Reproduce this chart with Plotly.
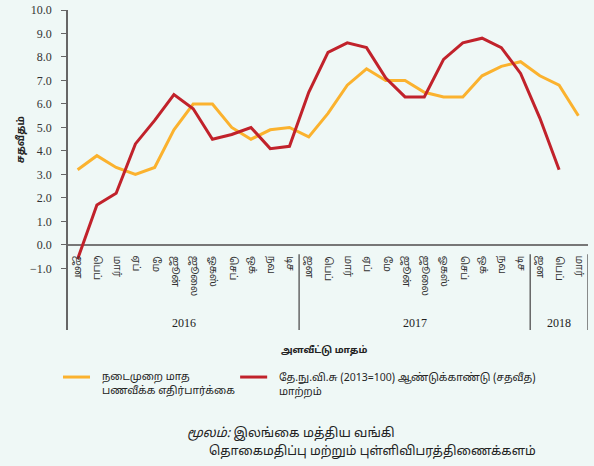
import plotly.graph_objects as go

months = ["ஜன", "பெப்", "மார்", "ஏப்", "மே", "ஜூன்", "ஜூலை", "ஓகஸ்", "செப்", "ஒக்", "நவ", "டிச"]
categories = months + months + months[:3]
years = ["2016", "2017", "2018"]
year_start = [0, 12, 24]
year_len = [12, 12, 3]

expected = [3.2, 3.8, 3.3, 3.0, 3.3, 4.9, 6.0, 6.0, 5.0, 4.5, 4.9, 5.0,
            4.6, 5.6, 6.8, 7.5, 7.0, 7.0, 6.5, 6.3, 6.3, 7.2, 7.6, 7.8,
            7.2, 6.8, 5.5]
ccpi = [-0.6, 1.7, 2.2, 4.3, 5.3, 6.4, 5.8, 4.5, 4.7, 5.0, 4.1, 4.2,
        6.5, 8.2, 8.6, 8.4, 7.1, 6.3, 6.3, 7.9, 8.6, 8.8, 8.4, 7.3,
        5.4, 3.2, None]

name1 = "நடைமுறை மாத<br>பணவீக்க எதிர்பார்க்கை"
name2 = "தே.நு.வி.சு (2013=100) ஆண்டுக்காண்டு (சதவீத)<br>மாற்றம்"
ytitle = "சதவீதம்"
xtitle = "அளவீட்டு மாதம்"
source1 = "<i>மூலம்:</i> இலங்கை மத்திய வங்கி"
source2 = "தொகைமதிப்பு மற்றும் புள்ளிவிபரத்திணைக்களம்"

YELLOW = "#FBB22E"
RED = "#C1222B"
BG = "#EFF8F6"
TAMIL = "Noto Sans Tamil, Lohit Tamil, Noto Sans, DejaVu Sans, sans-serif"
SERIF = "Liberation Serif, Times New Roman, serif"

x = list(range(len(categories)))

fig = go.Figure()
fig.add_trace(go.Scatter(x=x, y=expected, mode="lines", name=name1, showlegend=False,
                         line=dict(color=YELLOW, width=3)))
fig.add_trace(go.Scatter(x=x, y=ccpi, mode="lines", name=name2, showlegend=False,
                         line=dict(color=RED, width=3)))

annotations = []
for i, m in enumerate(categories):
    annotations.append(dict(x=i, y=-0.38, xref="x", yref="y", text=m, showarrow=False,
                            textangle=90, xanchor="center", yanchor="top",
                            font=dict(family=TAMIL, size=10, color="#333")))
for yr, s, n in zip(years, year_start, year_len):
    annotations.append(dict(x=s + (n - 1) / 2, y=-3.32, xref="x", yref="y", text=yr,
                            showarrow=False, font=dict(family=SERIF, size=12, color="#222")))

shapes = []
for s in year_start[1:] + [len(categories)]:
    shapes.append(dict(type="line", xref="x", yref="y", x0=s - 0.5, x1=s - 0.5,
                       y0=-0.4, y1=-3.7, line=dict(color="#666", width=1.5)))

# axis titles
annotations.append(dict(x=-0.088, y=0.594, xref="paper", yref="paper", text="<b>" + ytitle + "</b>",
                        showarrow=False, textangle=-90, xanchor="center", yanchor="middle",
                        font=dict(family=TAMIL, size=10, color="#222")))
annotations.append(dict(x=0.494, y=-0.066, xref="paper", yref="paper", text="<b>" + xtitle + "</b>",
                        showarrow=False, xanchor="center", yanchor="middle",
                        font=dict(family=TAMIL, size=9.5, color="#222")))

# legend (drawn manually)
for name, color, lx0, lx1, tx in [(name1, YELLOW, -0.0096, 0.0423, 0.0615),
                                  (name2, RED, 0.331, 0.383, 0.402)]:
    shapes.append(dict(type="line", xref="paper", yref="paper", x0=lx0, x1=lx1,
                       y0=-0.147, y1=-0.147, line=dict(color=color, width=3)))
    annotations.append(dict(x=tx, y=-0.122, xref="paper", yref="paper", text=name,
                            showarrow=False, xanchor="left", yanchor="top", align="left",
                            font=dict(family=TAMIL, size=10.5, color="#222")))

# source
annotations.append(dict(x=0.225, y=-0.325, xref="paper", yref="paper", text=source1,
                        showarrow=False, xanchor="left", yanchor="middle",
                        font=dict(family=TAMIL, size=12.8, color="#222")))
annotations.append(dict(x=0.267, y=-0.381, xref="paper", yref="paper", text=source2,
                        showarrow=False, xanchor="left", yanchor="middle",
                        font=dict(family=TAMIL, size=12.5, color="#222")))

fig.update_layout(
    width=594, height=466,
    margin=dict(l=68, r=6, t=10, b=136),
    paper_bgcolor=BG, plot_bgcolor=BG,
    showlegend=False,
    xaxis=dict(range=[-0.5, len(categories) - 0.5], showgrid=False, zeroline=False,
               showline=False, showticklabels=False, ticks="", automargin=False),
    yaxis=dict(range=[-3.62, 10.0], tickvals=[-1, 0, 1, 2, 3, 4, 5, 6, 7, 8, 9, 10],
               tickformat=".1f", showgrid=False, zeroline=True, zerolinecolor="#777",
               zerolinewidth=1.5, showline=True, linecolor="#666", linewidth=1.5,
               ticks="outside", ticklen=5, tickcolor="#666", ticklabelstandoff=7,
               automargin=False,
               tickfont=dict(family=SERIF, size=12, color="#333")),
    annotations=annotations, shapes=shapes,
)

fig.write_html("out.html", config={"displayModeBar": False},
               post_script="document.body.style.margin='0';document.body.style.padding='0';"
                           "document.body.style.background='" + BG + "';")
